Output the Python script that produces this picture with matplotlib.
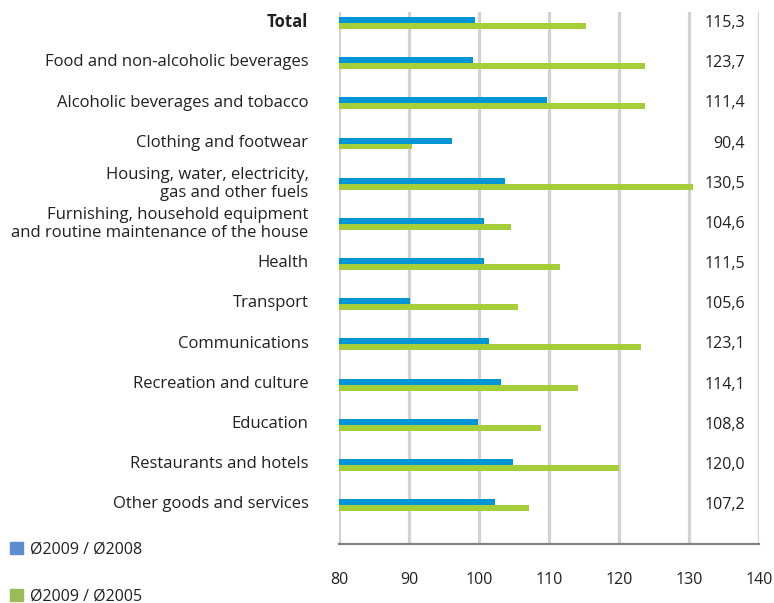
import matplotlib.pyplot as plt
from matplotlib.patches import Patch
from matplotlib.transforms import blended_transform_factory

plt.rcParams['font.family'] = ['Open Sans', 'DejaVu Sans']

# Data
categories = ['Total', 'Food and non-alcoholic beverages', 'Alcoholic beverages and tobacco',
              'Clothing and footwear', 'Housing, water, electricity,\ngas and other fuels',
              'Furnishing, household equipment\nand routine maintenance of the house',
              'Health', 'Transport', 'Communications', 'Recreation and culture',
              'Education', 'Restaurants and hotels', 'Other goods and services']
vs_2008 = [99.4, 99.1, 109.7, 96.1, 103.7, 100.7, 100.7, 90.1, 101.4, 103.1, 99.9, 104.9, 102.3]
vs_2005 = [115.3, 123.7, 123.7, 90.4, 130.5, 104.6, 111.5, 105.6, 123.1, 114.1, 108.8, 120.0, 107.2]
value_labels = ['115,3', '123,7', '111,4', '90,4', '130,5', '104,6', '111,5',
                '105,6', '123,1', '114,1', '108,8', '120,0', '107,2']
xticks = [80, 90, 100, 110, 120, 130, 140]

blue = '#0096d6'
green = '#a6ce39'
txt = '#231f20'

fig = plt.figure(figsize=(7.74, 6.03), dpi=100)
ax = fig.add_axes([339 / 774, 1 - 544 / 603, 420 / 774, 532 / 603])

h = 0.149
ypos = list(range(len(categories)))
ax.barh([y - h for y in ypos], [v - 80 for v in vs_2008], left=80, height=h,
        align='edge', color=blue, zorder=3)
ax.barh(ypos, [v - 80 for v in vs_2005], left=80, height=h,
        align='edge', color=green, zorder=3)

ax.set_xlim(80, 140)
ax.set_ylim(12.97, -0.274)
ax.set_xticks(xticks)
ax.set_xticklabels([str(t) for t in xticks], fontsize=11.5, color=txt)
ax.tick_params(axis='x', length=0, pad=20)
ax.set_yticks([y - 0.07 for y in ypos])
ax.set_yticklabels(categories, fontsize=12, color=txt, linespacing=1.15)
ax.get_yticklabels()[0].set_fontweight('bold')
ax.tick_params(axis='y', length=0, pad=22)

ax.grid(axis='x', color='#d1d2d4', linewidth=2.3, zorder=0)
for s in ['top', 'right', 'left']:
    ax.spines[s].set_visible(False)
ax.spines['bottom'].set_color('#808080')
ax.spines['bottom'].set_linewidth(1.6)
ax.spines['bottom'].set_zorder(4)

tr = blended_transform_factory(ax.transAxes, ax.transData)
for y, lab in zip(ypos, value_labels):
    ax.text(0.967, y, lab, transform=tr, ha='right', va='center',
            fontsize=11.5, color=txt)

handles = [Patch(color='#5b8dd0', label='Ø2009 / Ø2008'),
           Patch(color='#9bbb59', label='Ø2009 / Ø2005')]
fig.legend(handles=handles, loc='upper left', bbox_to_anchor=(0.005, 1 - 535 / 603),
           frameon=False, fontsize=11.5, handlelength=0.8, handleheight=0.8,
           handletextpad=0.45, labelspacing=1.95, borderaxespad=0, labelcolor=txt)

fig.savefig('out.png', dpi=100)
